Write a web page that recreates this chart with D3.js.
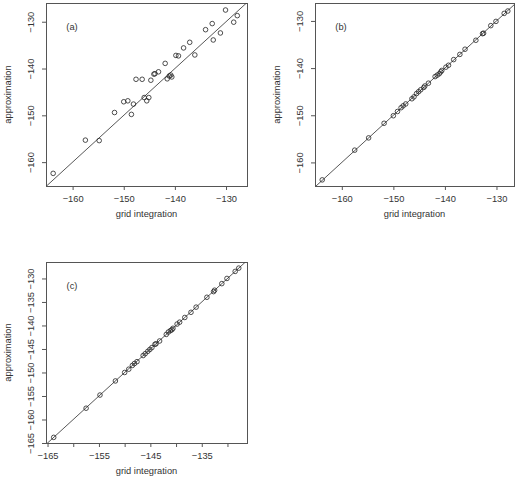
<!DOCTYPE html>
<html>
<head>
<meta charset="utf-8">
<script src="https://cdn.jsdelivr.net/npm/d3@7"></script>
<style>
  body { margin: 0; background: #fff; }
  text { font-family: "Liberation Sans", Arial, sans-serif; fill: #333; }
</style>
</head>
<body>
<script>
// grid integration values (shared x for all three panels)
var gridX = [-163.8, -157.5, -154.8, -151.8, -150.0, -149.2, -148.5, -148.1, -146.0, -145.5,
             -145.1, -147.6, -146.4, -144.7, -144.1, -143.9, -143.2, -141.9, -141.5, -141.1,
             -140.8, -140.6, -139.8, -139.3, -138.3, -137.1, -136.1, -134.0, -132.7, -132.5,
             -131.1, -130.1, -128.5, -127.8];

// approximation, panel (a)
var approxA = [-162.4, -155.3, -155.4, -149.4, -147.1, -146.9, -149.8, -147.6, -146.2, -146.9,
               -146.2, -142.3, -142.3, -142.5, -141.2, -141.1, -140.7, -138.9, -142.2, -141.6,
               -141.4, -141.8, -137.2, -137.3, -135.6, -134.4, -137.1, -131.7, -130.4, -133.9,
               -132.4, -127.5, -130.1, -128.7];

// approximation, panel (b)
var approxB = [-163.7, -157.4, -154.8, -151.7, -150.1, -149.2, -148.4, -148.0, -146.1, -145.4,
               -145.0, -147.6, -146.5, -144.6, -144.1, -143.8, -143.2, -141.8, -141.5, -141.2,
               -140.8, -140.5, -139.8, -139.4, -138.2, -137.1, -136.0, -134.1, -132.7, -132.6,
               -131.0, -130.1, -128.4, -127.9];

// approximation, panel (c)
var approxC = [-163.8, -157.6, -154.8, -151.8, -150.0, -149.3, -148.5, -148.1, -146.0, -145.5,
               -145.1, -147.7, -146.4, -144.7, -144.0, -143.9, -143.3, -141.9, -141.4, -141.1,
               -140.9, -140.6, -139.7, -139.3, -138.3, -137.2, -136.1, -134.0, -132.8, -132.5,
               -131.1, -130.0, -128.5, -127.8];

var ticksAB = [-160, -150, -140, -130];
var ticksC = [-165, -160, -155, -150, -145, -140, -135, -130];
var ticksCxLabels = [-165, -155, -145, -135];

var panels = [
  {name: "(a)", y: approxA, box: [46, 3, 247, 186], xdom: [-165.2, -125.9], ydom: [-165.1, -126.0],
   xticks: ticksAB, xlabels: ticksAB, yticks: ticksAB},
  {name: "(b)", y: approxB, box: [315, 3, 514, 186], xdom: [-165.2, -126.6], ydom: [-165.0, -126.2],
   xticks: ticksAB, xlabels: ticksAB, yticks: ticksAB},
  {name: "(c)", y: approxC, box: [46, 262, 247, 443], xdom: [-165.3, -126.2], ydom: [-165.0, -126.5],
   xticks: ticksC, xlabels: ticksCxLabels, yticks: ticksC}
];

var svg = d3.select("body").append("svg")
    .attr("width", 523)
    .attr("height", 480);

var fmt = d3.format("d");

panels.forEach(function(p, k) {
  var x0 = p.box[0], y0 = p.box[1], x1 = p.box[2], y1 = p.box[3];
  var x = d3.scaleLinear().domain(p.xdom).range([x0, x1]);
  var y = d3.scaleLinear().domain(p.ydom).range([y1, y0]);
  var g = svg.append("g");

  g.append("clipPath").attr("id", "clip" + k)
    .append("rect").attr("x", x0).attr("y", y0).attr("width", x1 - x0).attr("height", y1 - y0);

  // x axis
  var xa = g.append("g").attr("transform", "translate(0," + y1 + ")")
    .call(d3.axisBottom(x).tickValues(p.xticks).tickSize(4)
      .tickFormat(function(d) { return p.xlabels.indexOf(d) >= 0 ? fmt(d) : ""; }));
  xa.select(".domain").remove();
  xa.selectAll("line").attr("stroke", "#555");
  xa.selectAll("text").attr("y", 9.5).attr("dy", "0.71em")
    .style("font-size", "9.3px").style("font-family", "'Liberation Sans', Arial, sans-serif").attr("fill", "#333");
  g.append("line").attr("x1", x(p.xticks[0])).attr("x2", x(p.xticks[p.xticks.length - 1]))
    .attr("y1", y1 + 0.5).attr("y2", y1 + 0.5).attr("stroke", "#555");

  // y axis, rotated labels like R
  var ya = g.append("g").attr("transform", "translate(" + x0 + ",0)")
    .call(d3.axisLeft(y).tickValues(p.yticks).tickSize(4).tickFormat(fmt));
  ya.select(".domain").remove();
  ya.selectAll("line").attr("stroke", "#555");
  ya.selectAll("text")
    .attr("x", null).attr("dy", null)
    .attr("text-anchor", "middle")
    .attr("transform", "translate(-12.5,0) rotate(-90)")
    .style("font-size", "9.3px").style("font-family", "'Liberation Sans', Arial, sans-serif").attr("fill", "#333");

  // box
  g.append("rect").attr("x", x0 + 0.5).attr("y", y0 + 0.5)
    .attr("width", x1 - x0).attr("height", y1 - y0)
    .attr("fill", "none").attr("stroke", "#555").attr("stroke-width", 1);

  // y = x reference line
  g.append("line")
    .attr("clip-path", "url(#clip" + k + ")")
    .attr("x1", x(-170)).attr("y1", y(-170))
    .attr("x2", x(-120)).attr("y2", y(-120))
    .attr("stroke", "#444").attr("stroke-width", 0.9);

  // points
  g.selectAll("circle.pt").data(gridX).enter().append("circle")
    .attr("class", "pt")
    .attr("cx", function(d) { return x(d); })
    .attr("cy", function(d, i) { return y(p.y[i]); })
    .attr("r", 2.3)
    .attr("fill", "none")
    .attr("stroke", "#222")
    .attr("stroke-width", 0.8);

  // panel label
  g.append("text").attr("x", x0 + 26).attr("y", y0 + 24 + 3)
    .attr("text-anchor", "middle").style("font-size", "9.3px").text(p.name);

  // axis titles
  g.append("text").attr("x", (x0 + x1) / 2).attr("y", y1 + 31)
    .attr("text-anchor", "middle").style("font-size", "9.3px").text("grid integration");
  g.append("text")
    .attr("transform", "translate(" + (x0 - 35) + "," + ((y0 + y1) / 2) + ") rotate(-90)")
    .attr("text-anchor", "middle").style("font-size", "9.3px").text("approximation");
});
</script>
</body>
</html>
